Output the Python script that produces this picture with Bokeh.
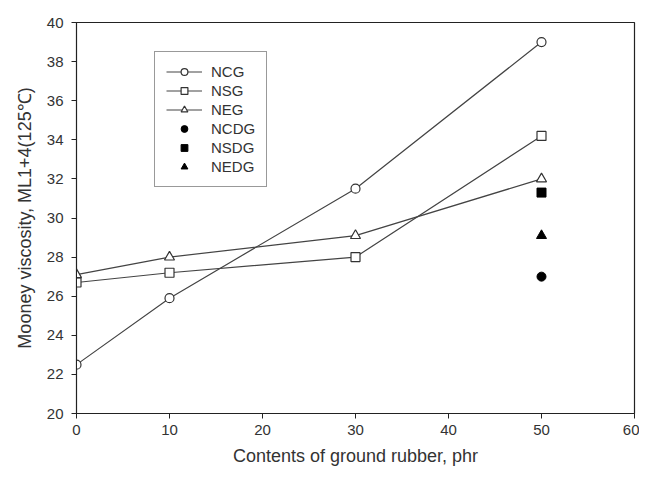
from bokeh.plotting import figure
from bokeh.models import FixedTicker, Range1d, Legend
from bokeh.embed import file_html
from bokeh.resources import INLINE

x_full = [0, 10, 30, 50]
ncg = [22.5, 25.9, 31.5, 39.0]
nsg = [26.7, 27.2, 28.0, 34.2]
neg = [27.1, 28.0, 29.1, 32.0]
x_dg = [50]
ncdg = [27.0]
nsdg = [31.3]
nedg = [29.1]
x_ticks = [0, 10, 20, 30, 40, 50, 60]
y_ticks = [20, 22, 24, 26, 28, 30, 32, 34, 36, 38, 40]

FONT = "Liberation Sans"
p = figure(width=639, height=470, output_backend="svg", toolbar_location=None,
           x_range=Range1d(0, 60), y_range=Range1d(20, 40),
           min_border_left=76, min_border_top=22, min_border_right=5, min_border_bottom=57)
p.xgrid.visible = False
p.ygrid.visible = False
p.outline_line_color = "#222222"
p.outline_line_width = 1.2

for ax in (p.xaxis[0], p.yaxis[0]):
    ax.axis_line_color = "#222222"
    ax.major_tick_line_color = "#222222"
    ax.minor_tick_line_color = None
    ax.major_tick_out = 5
    ax.major_tick_in = 0
    ax.major_label_text_font = FONT
    ax.major_label_text_font_size = "15px"
    ax.major_label_text_color = "#333333"
    ax.axis_label_text_font = FONT
    ax.axis_label_text_font_size = "18px"
    ax.axis_label_text_font_style = "normal"
    ax.axis_label_text_color = "#333333"

p.xaxis.ticker = FixedTicker(ticks=x_ticks)
p.yaxis.ticker = FixedTicker(ticks=y_ticks)
p.xaxis.axis_label = "Contents of ground rubber, phr"
p.yaxis.axis_label = "Mooney viscosity, ML1+4(125\u2103)"
p.xaxis.major_label_standoff = 6
p.yaxis.major_label_standoff = 8
p.xaxis.axis_label_standoff = 8
p.yaxis.axis_label_standoff = 9

lc = "#444444"
r1 = p.line(x_full, ncg, line_color=lc, line_width=1.2)
s1 = p.scatter(x_full, ncg, marker="circle", size=9, fill_color="white", line_color="#333333", line_width=1.2)
r2 = p.line(x_full, nsg, line_color=lc, line_width=1.2)
s2 = p.scatter(x_full, nsg, marker="square", size=9, fill_color="white", line_color="#333333", line_width=1.2)
r3 = p.line(x_full, neg, line_color=lc, line_width=1.2)
s3 = p.scatter(x_full, neg, marker="triangle", size=10, fill_color="white", line_color="#333333", line_width=1.2)
s4 = p.scatter(x_dg, ncdg, marker="circle", size=9, fill_color="black", line_color="black")
s5 = p.scatter(x_dg, nsdg, marker="square", size=9, fill_color="black", line_color="black")
s6 = p.scatter(x_dg, nedg, marker="triangle", size=10, fill_color="black", line_color="black")

legend = Legend(items=[("NCG", [r1, s1]), ("NSG", [r2, s2]), ("NEG", [r3, s3]),
                       ("NCDG", [s4]), ("NSDG", [s5]), ("NEDG", [s6])],
                location=(78, 226))
legend.glyph_width = 36
legend.glyph_height = 17
legend.label_height = 17
legend.spacing = 2
legend.padding = 11
legend.margin = 0
legend.label_standoff = 9
legend.label_text_font = FONT
legend.label_text_font_size = "15px"
legend.label_text_color = "#333333"
legend.border_line_color = "#333333"
legend.border_line_width = 1.2
legend.background_fill_alpha = 1
p.add_layout(legend)

open("out.html", "w").write(file_html(p, INLINE))
